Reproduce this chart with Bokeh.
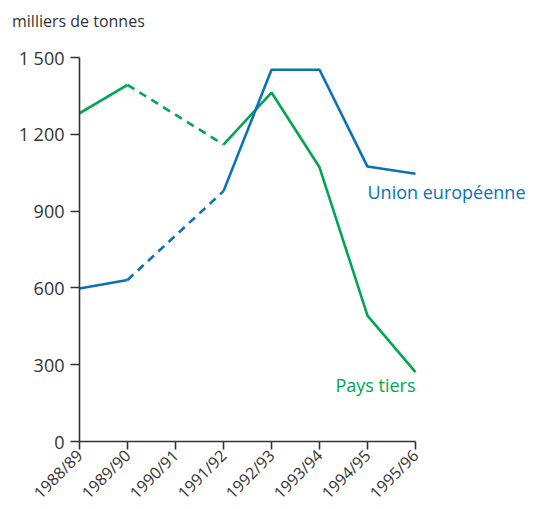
from bokeh.plotting import figure
from bokeh.models import FixedTicker, Label, Div
from bokeh.layouts import column
from bokeh.embed import file_html
from bokeh.resources import INLINE
import math

campagnes = ["1988/89", "1989/90", "1990/91", "1991/92", "1992/93", "1993/94", "1994/95", "1995/96"]
union_europeenne = [598, 631, None, 978, 1452, 1452, 1074, 1046]
pays_tiers = [1282, 1393, None, 1160, 1363, 1071, 492, 271]
y_ticks = [0, 300, 600, 900, 1200, 1500]
y_labels = {0: "0", 300: "300", 600: "600", 900: "900", 1200: "1 200", 1500: "1 500"}
unit_title = "milliers de tonnes"

BLUE = "#0a71b8"
GREEN = "#00a650"
GREY = "#333333"
FONT = "Open Sans"

n = len(campagnes)
p = figure(frame_width=456, frame_height=384, output_backend="svg", toolbar_location=None,
           x_range=(0, n - 1 + 2.5), y_range=(0, 1500),
           min_border_left=79, min_border_right=5, min_border_top=24, min_border_bottom=60)
p.outline_line_color = None
p.grid.visible = False
p.background_fill_color = "white"
p.border_fill_color = "white"

def segments(vals):
    solid, dashed, cur = [], [], []
    prev_valid = None
    for i, v in enumerate(vals):
        if v is None:
            if cur:
                solid.append(cur)
            cur = []
            continue
        if not cur and prev_valid is not None and i - prev_valid > 1:
            dashed.append(([prev_valid, i], [vals[prev_valid], v]))
        cur.append((i, v))
        prev_valid = i
    if cur:
        solid.append(cur)
    return solid, dashed

for vals, col in ((pays_tiers, GREEN), (union_europeenne, BLUE)):
    solid, dashed = segments(vals)
    for seg in solid:
        p.line([a for a, _ in seg], [b for _, b in seg], line_color=col, line_width=2.6)
    for xs, ys in dashed:
        p.line(xs, ys, line_color=col, line_width=2.6, line_dash="8 6")

p.xaxis.ticker = FixedTicker(ticks=list(range(n)))
p.xaxis.major_label_overrides = {i: c for i, c in enumerate(campagnes)}
p.xaxis.major_label_orientation = math.pi / 4
p.xaxis.bounds = (0, n - 1)
p.yaxis.ticker = FixedTicker(ticks=y_ticks)
p.yaxis.major_label_overrides = y_labels

for ax in (p.xaxis[0], p.yaxis[0]):
    ax.axis_line_color = GREY
    ax.axis_line_width = 1.6
    ax.major_tick_line_color = GREY
    ax.major_tick_line_width = 1.6
    ax.major_tick_in = 0
    ax.minor_tick_line_color = None
    ax.major_label_text_font = FONT
    ax.major_label_text_color = GREY
p.yaxis.major_tick_out = 9
p.xaxis.major_tick_out = 8
p.yaxis.major_label_text_font_size = "18px"
p.yaxis.major_label_standoff = 6
p.xaxis.major_label_text_font_size = "16px"
p.xaxis.major_label_standoff = 3

p.add_layout(Label(x=6.0, y=973, text="Union européenne", text_font=FONT, text_font_size="18px",
                   text_color=BLUE, text_baseline="alphabetic"))
p.add_layout(Label(x=7.0, y=219, text="Pays tiers", text_font=FONT, text_font_size="18px",
                   text_color=GREEN, text_align="right", text_baseline="alphabetic"))

head = Div(text=unit_title, width=540, height=33, margin=(0, 0, 0, 0),
           styles={"font-family": FONT, "font-size": "16px", "color": GREY,
                   "padding-left": "12px", "padding-top": "11px", "line-height": "20px",
                   "box-sizing": "border-box"})

layout = column(head, p, spacing=0)
open("out.html", "w").write(file_html(layout, INLINE))
